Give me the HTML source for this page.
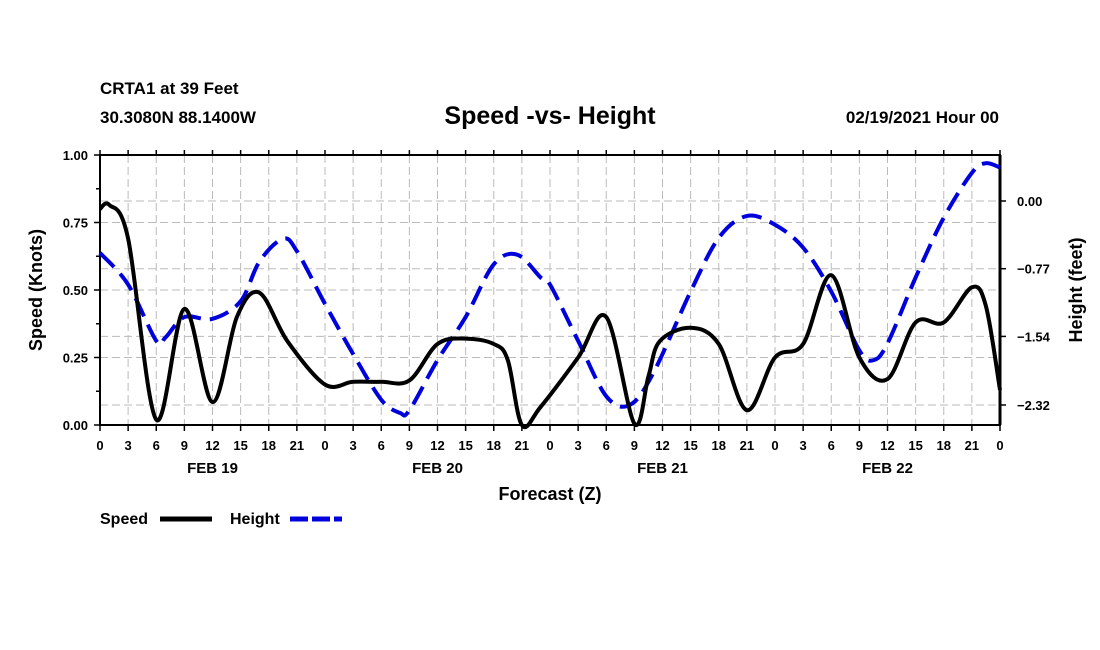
<!DOCTYPE html>
<html><head><meta charset="utf-8"><style>
body{margin:0;background:#fff;}
svg{display:block;font-family:"Liberation Sans",sans-serif;}
</style></head><body>
<svg id="chart" width="1100" height="650" viewBox="0 0 1100 650">
<text x="100" y="94" font-size="17" font-weight="bold">CRTA1 at 39 Feet</text>
<text x="100" y="123" font-size="17" font-weight="bold">30.3080N 88.1400W</text>
<text x="550" y="124" font-size="25" font-weight="bold" text-anchor="middle">Speed -vs- Height</text>
<text x="999" y="123" font-size="17" font-weight="bold" text-anchor="end">02/19/2021 Hour 00</text>
<g id="grid"></g>
<g id="axes"></g>
<g id="series"></g>
<text x="0" y="0" font-size="18" font-weight="bold" text-anchor="middle" transform="translate(42,290) rotate(-90)">Speed (Knots)</text>
<text x="0" y="0" font-size="18" font-weight="bold" text-anchor="middle" transform="translate(1082,290) rotate(-90)">Height (feet)</text>
<text x="550" y="500" font-size="18" font-weight="bold" text-anchor="middle">Forecast (Z)</text>
<g>
<text x="100" y="524" font-size="16" font-weight="bold">Speed</text>
<line x1="160" y1="519" x2="212" y2="519" stroke="#000" stroke-width="5"/>
<text x="230" y="524" font-size="16" font-weight="bold">Height</text>
<line x1="290" y1="519" x2="342" y2="519" stroke="#0000dd" stroke-width="5" stroke-dasharray="18 4"/>
</g>
</svg>
<script>
const speedHours=[0,1,3,6,9,12,14.6,17,20,24,27,30,33,36,39,42,43.5,45,47,51,54,57,58.5,59.7,63,66,69,72,75,78,81,84,87,90,93,94.5,96];
const speedValues=[0.80,0.815,0.69,0.02,0.43,0.085,0.40,0.49,0.31,0.15,0.16,0.16,0.165,0.30,0.32,0.30,0.24,0.00,0.067,0.25,0.40,0.005,0.18,0.31,0.36,0.30,0.055,0.25,0.30,0.555,0.25,0.17,0.38,0.38,0.51,0.44,0.13];
const heightHours=[0,3,6,7,9,12,15,17,19.5,21,24,27,30,32,33,36,39,42,44.5,47,48,51,54,56.5,59,63,66,69,72,75,78,81,82.5,84,87,90,93,94.5,96];
const heightValues=[-0.59,-0.95,-1.59,-1.55,-1.32,-1.34,-1.14,-0.69,-0.43,-0.57,-1.17,-1.74,-2.26,-2.41,-2.38,-1.81,-1.32,-0.72,-0.61,-0.87,-0.95,-1.59,-2.22,-2.32,-1.96,-1.03,-0.42,-0.17,-0.27,-0.53,-1.03,-1.70,-1.81,-1.62,-0.87,-0.19,0.32,0.43,0.38];
const speedTicks=[0,0.25,0.5,0.75,1.0];
const speedTickLabels=["0.00","0.25","0.50","0.75","1.00"];
const heightTicks=[0,-0.77,-1.54,-2.32];
const heightTickLabels=["0.00","\u22120.77","\u22121.54","\u22122.32"];
const dayLabels=["FEB 19","FEB 20","FEB 21","FEB 22"];

const L=100,R=1000,T=155,B=425;
const xS=h=>L+(R-L)*h/96;
const yS=v=>B-(B-T)*v;
const yH=f=>201-f*87.93;
const NS="http://www.w3.org/2000/svg";
function mk(tag,attrs,parent){const e=document.createElementNS(NS,tag);for(const k in attrs)e.setAttribute(k,attrs[k]);parent.appendChild(e);return e;}
const grid=document.getElementById('grid'),axes=document.getElementById('axes'),series=document.getElementById('series');
for(let h=0;h<=96;h+=3){
 const x=xS(h);
 if(h>0&&h<96){const g=mk('line',{x1:x,y1:T,x2:x,y2:B,stroke:'#bbb','stroke-width':1,'stroke-dasharray':'8 4'},grid);
 
 }
 const t=mk('line',{x1:x,y1:B,x2:x,y2:B+6,stroke:'#000','stroke-width':1.5},axes);
 
 
 const t2=mk('line',{x1:x,y1:T,x2:x,y2:T-5,stroke:'#000','stroke-width':1.5},axes);
 
 
 const lb=mk('text',{x:x,y:B+25,'font-size':13,'font-weight':'bold','text-anchor':'middle'},axes);
 lb.textContent=String(h%24);
 
 
}
dayLabels.forEach((d,i)=>{const t=mk('text',{x:xS(i*24+12),y:473,'font-size':15,'font-weight':'bold','text-anchor':'middle'},axes);t.textContent=d;
 
 });
speedTicks.forEach((v,i)=>{const y=yS(v);
 if(v>0&&v<1){const g=mk('line',{x1:L,y1:y,x2:R,y2:y,stroke:'#bbb','stroke-width':1,'stroke-dasharray':'8 4'},grid);
 
 }
 const t=mk('line',{x1:L-6,y1:y,x2:L,y2:y,stroke:'#000','stroke-width':1.5},axes);
 
 
 const lb=mk('text',{x:L-12,y:y+5,'font-size':13,'font-weight':'bold','text-anchor':'end'},axes);lb.textContent=speedTickLabels[i];
 
 
 if(i<speedTicks.length-1){const m=mk('line',{x1:L-4,y1:yS(v+0.125),x2:L,y2:yS(v+0.125),stroke:'#000','stroke-width':1.5},axes);
 
 }
});
heightTicks.forEach((f,i)=>{const y=yH(f);
 const g=mk('line',{x1:L,y1:y,x2:R,y2:y,stroke:'#bbb','stroke-width':1,'stroke-dasharray':'8 4'},grid);
 
 
 const t=mk('line',{x1:R,y1:y,x2:R+6,y2:y,stroke:'#000','stroke-width':1.5},axes);
 
 
 const lb=mk('text',{x:R+17,y:y+5,'font-size':13,'font-weight':'bold'},axes);lb.textContent=heightTickLabels[i];
 
 
});
const frame=mk('rect',{x:L,y:T,width:R-L,height:B-T,fill:'none',stroke:'#000','stroke-width':2},axes);


const rax=mk('line',{x1:R,y1:T,x2:R,y2:B,stroke:'#000','stroke-width':3},axes);


function smooth(pts){let d=`M${pts[0][0]},${pts[0][1]}`;
 for(let i=0;i<pts.length-1;i++){const p0=pts[Math.max(0,i-1)],p1=pts[i],p2=pts[i+1],p3=pts[Math.min(pts.length-1,i+2)];
 const c1=[p1[0]+(p2[0]-p0[0])/6,p1[1]+(p2[1]-p0[1])/6],c2=[p2[0]-(p3[0]-p1[0])/6,p2[1]-(p3[1]-p1[1])/6];
 d+=` C${c1[0]},${c1[1]} ${c2[0]},${c2[1]} ${p2[0]},${p2[1]}`;}
 return d;}
const hp=heightHours.map((h,i)=>[xS(h),yH(heightValues[i])]);
const hl=mk('path',{d:smooth(hp),fill:'none',stroke:'#0000dd','stroke-width':4,'stroke-dasharray':'20 9'},series);


const sp=speedHours.map((h,i)=>[xS(h),yS(speedValues[i])]);
const sl=mk('path',{d:smooth(sp),fill:'none',stroke:'#000','stroke-width':4,'stroke-linejoin':'round'},series);


</script>
</body></html>
